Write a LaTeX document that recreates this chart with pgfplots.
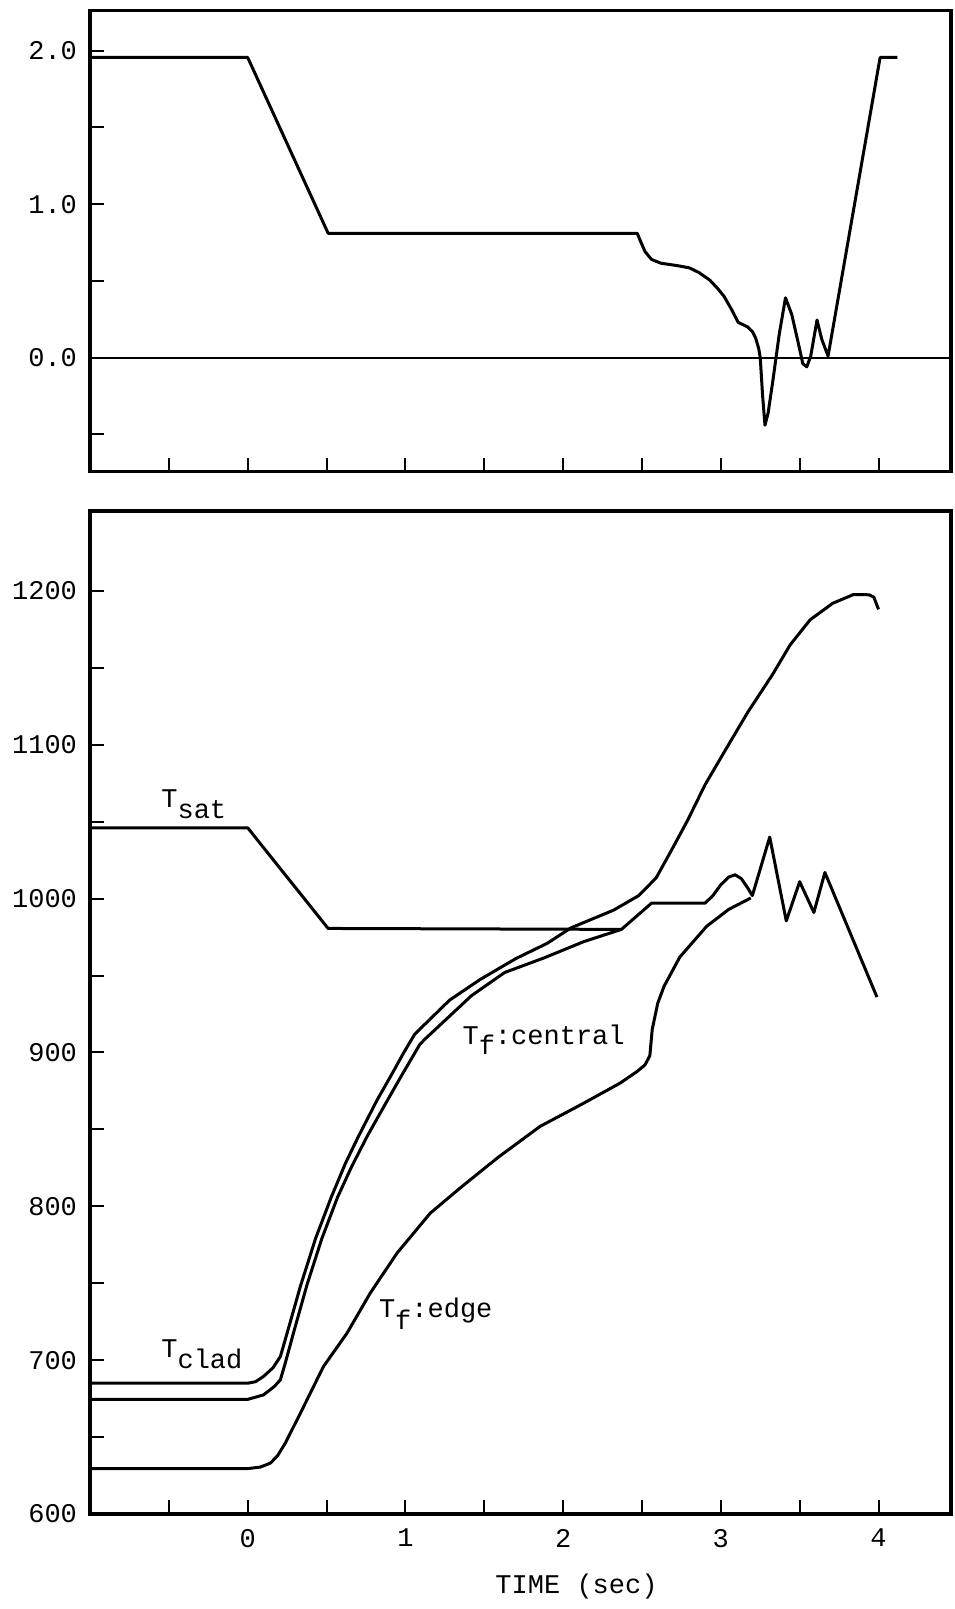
\documentclass[border=0pt]{standalone}
\usepackage{fontspec}
\setmainfont{Liberation Mono}
\usepackage{pgfplots}
\pgfplotsset{compat=1.18}

% shared look of both panels
\pgfplotsset{
  panel/.style={
    scale only axis,
    width=430.5pt,
    xmin=-1, xmax=4.46,
    axis line style={line width=1.7pt},
    tick style={line width=1pt, black},
    major tick length=7pt,
    tick align=inside,
    tick pos=left,
    xtick={-0.5,0,0.5,1,1.5,2,2.5,3,3.5,4},
    tick label style={font=\fontsize{13.5}{15}\selectfont},
    yticklabel style={xshift=-3pt},
    xticklabel style={yshift=-4pt},
    every axis plot post/.append style={black, mark=none, line width=1.5pt, line join=round},
  },
}
\tikzset{lbl/.style={anchor=base west, inner sep=0pt, font=\fontsize{13.5}{15}\selectfont}}

\begin{document}
\begin{tikzpicture}

% lower panel: temperatures
\begin{axis}[panel, name=bot,
    at={(0,0)}, anchor=south west,
    height=501.5pt,
    ymin=600, ymax=1252,
    ytick={600,650,700,750,800,850,900,950,1000,1050,1100,1150,1200},
    yticklabels={600,,700,,800,,900,,1000,,1100,,1200},
    xticklabels={,0,,1,,2,,3,,4},
    xlabel={TIME (sec)},
    xlabel style={at={(axis description cs:0.565,0)}, anchor=center, yshift=-36.5pt,
      font=\fontsize{13.5}{15}\selectfont},
  ]
  % T_sat
  \addplot coordinates {(-1,1046) (0,1046) (0.51,980.6) (2.37,980)};
  % upper curve (T_clad)
  \addplot coordinates {(-1,685) (0,685) (0.05,686) (0.10,689.4) (0.16,695)
    (0.207,702.3) (0.25,717.6) (0.334,748) (0.43,779) (0.53,806)
    (0.62,828) (0.70,845) (0.82,869) (0.92,887) (0.99,900) (1.06,912)
    (1.28,934) (1.475,947.5) (1.70,961) (1.90,971) (2.05,981) (2.32,992.5)
    (2.48,1002) (2.59,1013.5) (2.69,1032) (2.79,1051) (2.90,1074) (3.02,1095)
    (3.17,1121) (3.33,1146) (3.44,1165) (3.567,1181.3) (3.71,1192)
    (3.84,1197.6) (3.94,1197.5) (3.97,1196) (4.0,1188)};
  % T_f:central
  \addplot coordinates {(-1,674.5) (0,674.5) (0.10,677.4) (0.17,683) (0.207,687.2)
    (0.238,698) (0.29,717.6) (0.376,749) (0.47,779) (0.57,806) (0.66,826)
    (0.76,846) (0.87,866) (0.97,884) (1.09,905) (1.12,908.3) (1.42,937) (1.63,952)
    (1.88,961.5) (2.13,972) (2.37,980) (2.56,997) (2.90,997) (2.95,1002)
    (3.00,1009) (3.05,1014) (3.09,1015.5) (3.13,1013) (3.17,1007) (3.20,1002)
    (3.31,1040) (3.415,985.5) (3.50,1011) (3.59,991) (3.66,1017) (3.99,936)};
  % T_f:edge
  \addplot coordinates {(-1,629.5) (0,629.5) (0.08,630.5) (0.143,633) (0.19,638)
    (0.238,646) (0.334,665.5) (0.48,695.8) (0.63,717.6) (0.777,743.6)
    (0.947,769.6) (1.158,795.6) (1.36,813) (1.59,832) (1.855,852) (2.13,867)
    (2.36,880) (2.47,887.7) (2.52,892) (2.55,898) (2.565,915) (2.60,932)
    (2.64,943) (2.74,962) (2.91,982) (3.05,993) (3.19,1000.4)};

  \node[lbl] at (axis cs:-0.55,1059.5) {T\raisebox{-5.5pt}{sat}};
  \node[lbl] at (axis cs:-0.55,701.5) {T\raisebox{-5.5pt}{clad}};
  \node[lbl] at (axis cs:1.36,905) {T\raisebox{-5pt}{f}:central};
  \node[lbl] at (axis cs:0.83,728) {T\raisebox{-6pt}{f}:edge};
\end{axis}

% upper panel
\begin{axis}[panel, name=top,
    at={(0,521.1pt)}, anchor=south west,
    height=230.5pt,
    ymin=-0.743, ymax=2.26,
    ytick={-0.5,0,0.5,1,1.5,2},
    yticklabels={,0.0,,1.0,,2.0},
    xticklabels={},
    extra y ticks={0},
    extra y tick labels={},
    extra y tick style={grid=major, major grid style={black, line width=1pt}},
  ]
  \addplot coordinates {(-1,1.955) (0,1.955) (0.51,0.81) (2.47,0.81) (2.49,0.76)
    (2.52,0.69) (2.56,0.64) (2.62,0.615) (2.72,0.60) (2.80,0.585) (2.86,0.555)
    (2.93,0.505) (2.98,0.45) (3.02,0.40) (3.07,0.31) (3.11,0.23) (3.14,0.215)
    (3.17,0.20) (3.20,0.17) (3.22,0.13) (3.24,0.06) (3.25,0.0) (3.265,-0.25)
    (3.28,-0.44) (3.30,-0.36) (3.33,-0.15) (3.37,0.15) (3.41,0.39) (3.45,0.28)
    (3.49,0.10) (3.52,-0.04) (3.545,-0.06) (3.57,0.01) (3.61,0.245) (3.64,0.12)
    (3.68,0.01) (4.01,1.955) (4.12,1.955)};
\end{axis}

\pgfresetboundingbox
\path[use as bounding box] ([xshift=-45pt,yshift=-47.5pt]bot.south west)
  rectangle ([xshift=1.5pt,yshift=5.35pt]top.north east);
\end{tikzpicture}
\end{document}
